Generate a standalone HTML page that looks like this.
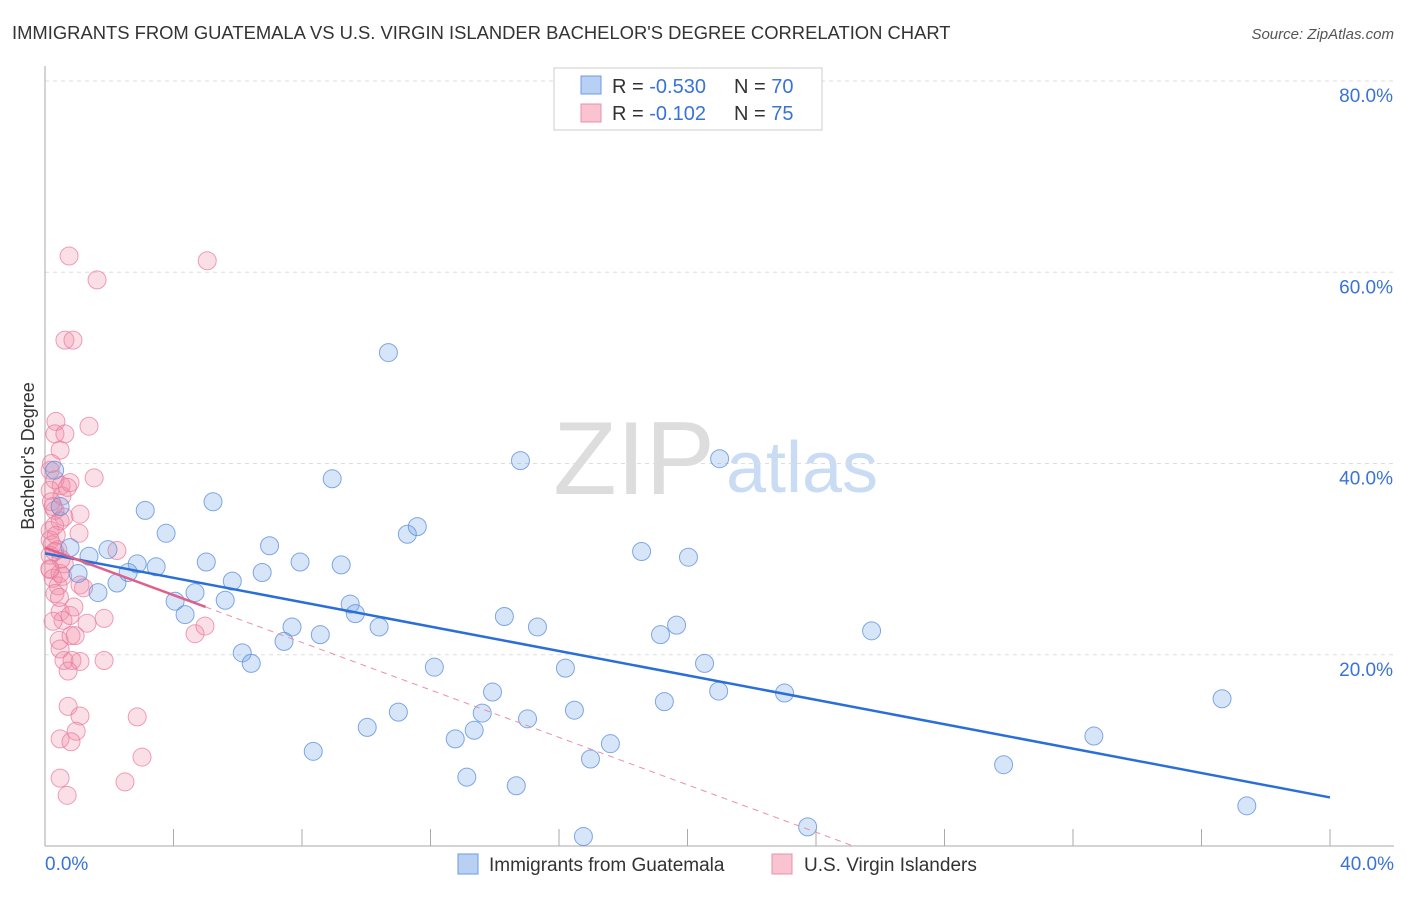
<!DOCTYPE html>
<html><head><meta charset="utf-8"><style>
body{margin:0;background:#fff;font-family:"Liberation Sans",sans-serif;}
svg text{font-family:"Liberation Sans",sans-serif;}
</style></head><body>
<svg id="chart" width="1406" height="892">
<text x="12" y="39" font-size="18.4" fill="#333">IMMIGRANTS FROM GUATEMALA VS U.S. VIRGIN ISLANDER BACHELOR'S DEGREE CORRELATION CHART</text>
<text x="1394" y="39" font-size="15" fill="#555" font-style="italic" text-anchor="end">Source: ZipAtlas.com</text>
<text x="634" y="494" font-size="104" fill="#ddd" font-family="Liberation Serif" text-anchor="middle">ZIP</text>
<text x="802" y="492" font-size="72" fill="#c9dcf3" text-anchor="middle">atlas</text>
<g id="grid"></g>
<g id="axes"></g>
<g id="pts"></g>
<g id="lines"></g>
<text transform="translate(34,456) rotate(-90)" font-size="18" fill="#333" text-anchor="middle">Bachelor's Degree</text>
<g>
<rect x="554" y="68" width="268" height="62" fill="#fff" stroke="#ccc"/>
<rect x="581" y="76" width="20" height="18" fill="#b8d0f3" stroke="#6a9be0"/>
<rect x="581" y="104" width="20" height="18" fill="#f9c3d2" stroke="#e890aa"/>
<text x="612" y="93" font-size="20" fill="#333">R = <tspan fill="#3a73d6">-0.530</tspan></text>
<text x="734" y="93" font-size="20" fill="#333">N = <tspan fill="#3a73d6">70</tspan></text>
<text x="612" y="120" font-size="20" fill="#333">R =  <tspan fill="#3a73d6">-0.102</tspan></text>
<text x="734" y="120" font-size="20" fill="#333">N = <tspan fill="#3a73d6">75</tspan></text>
</g>
<g>
<rect x="458" y="854" width="20" height="20" fill="#b8d0f3" stroke="#6a9be0"/>
<text x="489" y="871" font-size="19" fill="#333">Immigrants from Guatemala</text>
<rect x="772" y="854" width="20" height="20" fill="#f9c3d2" stroke="#e890aa"/>
<text x="804" y="871" font-size="19" fill="#333">U.S. Virgin Islanders</text>
</g>
</svg>
<script>
const xTicks=[0,4,8,12,16,20,24,28,32,36,40];
const yTicks=[20,40,60,80];
const blueX=[10.69,14.8,21.0,8.94,5.23,11.28,11.59,3.12,3.77,0.3,0.47,0.78,1.37,1.96,2.87,3.46,2.59,1.03,2.24,1.65,5.02,5.83,6.76,6.99,7.94,9.22,4.67,5.61,4.05,4.36,9.5,9.66,7.69,8.57,7.44,10.4,6.14,6.42,12.12,14.3,15.33,18.57,20.03,19.66,19.16,16.2,20.53,25.73,13.93,20.97,23.02,19.28,16.48,13.61,11.0,15.02,10.03,13.36,12.77,17.6,16.98,8.35,13.13,14.67,16.76,23.74,36.64,32.65,29.84,37.41];
const blueY=[51.6,40.3,40.5,38.4,36.0,32.6,33.4,35.1,32.7,39.3,35.5,31.2,30.3,31.0,29.5,29.2,28.6,28.5,27.5,26.5,29.7,27.7,28.6,31.4,29.7,29.4,26.5,25.7,25.6,24.2,25.3,24.3,22.9,22.1,21.4,22.9,20.2,19.1,18.7,24.0,22.9,30.8,30.2,23.1,22.1,18.6,19.1,22.5,16.1,16.2,16.0,15.1,14.2,13.9,14.0,13.3,12.4,12.1,11.2,10.7,9.1,9.9,7.2,6.3,1.0,2.0,15.4,11.5,8.5,4.2];
const pinkX=[0.75,5.05,1.62,0.62,0.87,0.34,1.37,0.31,0.62,0.47,1.53,0.16,0.31,0.5,0.16,0.53,0.78,0.31,0.47,1.09,0.59,1.06,0.16,0.16,0.22,0.16,2.24,0.16,0.25,0.41,1.09,0.47,0.31,0.47,0.56,0.78,1.84,1.31,0.25,0.44,0.81,0.94,0.47,4.67,4.98,0.59,0.84,1.09,1.84,0.72,0.72,1.09,2.87,0.97,0.47,0.81,3.02,0.47,2.49,0.69,0.2,0.3,0.6,0.9,0.4,0.25,0.5,1.2,0.35,0.7,0.2,0.45,0.3,0.55,0.15];
const pinkY=[61.7,61.2,59.2,52.9,52.9,44.4,43.9,43.1,43.1,41.4,38.5,39.3,38.3,37.7,37.2,36.6,38.0,35.1,34.0,34.7,34.4,32.7,33.0,32.0,31.5,30.4,30.9,28.9,28.0,27.2,27.3,28.5,26.4,24.5,23.6,24.1,23.8,23.3,23.5,21.5,22.0,22.0,20.6,22.2,23.0,19.4,19.4,19.3,19.4,18.3,14.6,13.6,13.5,12.0,11.2,10.9,9.3,7.1,6.7,5.3,36.0,33.5,29.5,25.0,31.0,35.5,30.0,27.0,32.5,37.5,40.0,26.0,30.8,28.2,29.0];
const blueLine=[30.6,-0.638];   // intercept, slope
const pinkLine=[31.2,-1.24];
const pinkSolidEnd=5;
const X=v=>45+v*32.125, Y=v=>846-v*9.5625;
const NS='http://www.w3.org/2000/svg';
function mk(tag,attrs,parent){const e=document.createElementNS(NS,tag);for(const k in attrs)e.setAttribute(k,attrs[k]);document.getElementById(parent).appendChild(e);return e;}
yTicks.forEach(t=>{
  const l=mk('line',{x1:45,x2:1394,y1:Y(t),y2:Y(t),stroke:'#ddd','stroke-dasharray':'4,4'},'grid');
  
  
  const tx=mk('text',{x:1393,y:Y(t)+21,'font-size':19,fill:'#3a73d6','text-anchor':'end'},'grid');
  tx.textContent=t.toFixed(1)+'%';
  
  
});
const ya=mk('line',{x1:45,x2:45,y1:66,y2:846,stroke:'#aaa'},'axes');


const xa=mk('line',{x1:45,x2:1394,y1:846,y2:846,stroke:'#aaa'},'axes');


xTicks.forEach(t=>{
  const l=mk('line',{x1:X(t),x2:X(t),y1:829,y2:846,stroke:'#aaa'},'axes');
  
  
});
[[0,'start'],[40,'end']].forEach(([t,a])=>{
  const tx=mk('text',{x:t==0?45:1394,y:870,'font-size':19,fill:'#3a73d6','text-anchor':a},'axes');
  tx.textContent=t.toFixed(1)+'%';
  
  
});
pinkX.forEach((x,i)=>{
  const c=mk('circle',{cx:X(x),cy:Y(pinkY[i]),r:9,fill:'rgba(242,140,170,0.28)',stroke:'rgba(232,120,155,0.7)','stroke-width':1},'pts');
  
  
});
blueX.forEach((x,i)=>{
  const c=mk('circle',{cx:X(x),cy:Y(blueY[i]),r:9,fill:'rgba(110,160,230,0.28)',stroke:'rgba(90,140,220,0.75)','stroke-width':1},'pts');
  
  
});
const bl=mk('line',{x1:X(0),y1:Y(blueLine[0]),x2:X(40),y2:Y(blueLine[0]+40*blueLine[1]),stroke:'#2a6fd8','stroke-width':2.5},'lines');


const pxEnd=-pinkLine[0]/pinkLine[1];
const pd=mk('line',{x1:X(pinkSolidEnd),y1:Y(pinkLine[0]+pinkSolidEnd*pinkLine[1]),x2:X(pxEnd),y2:Y(0),stroke:'#e890aa','stroke-width':1,'stroke-dasharray':'6,5'},'lines');


const ps=mk('line',{x1:X(0),y1:Y(pinkLine[0]),x2:X(pinkSolidEnd),y2:Y(pinkLine[0]+pinkSolidEnd*pinkLine[1]),stroke:'#e0608a','stroke-width':2.5},'lines');


</script>
</body></html>
